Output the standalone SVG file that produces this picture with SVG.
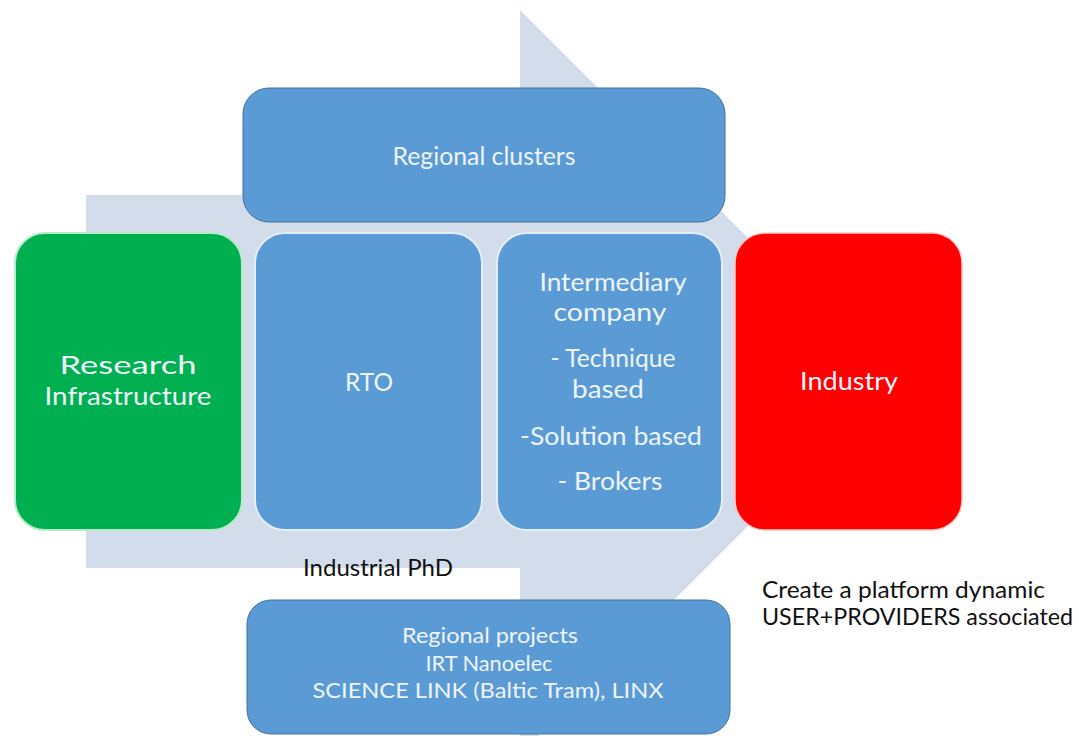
<svg xmlns="http://www.w3.org/2000/svg" width="1079" height="736" viewBox="0 0 1079 736">
<style>
text{font-family:Lato,"Open Sans","Liberation Sans",sans-serif;text-anchor:middle}
.in{fill:#EEF4FB;font-size:25px}
.out{fill:#111;font-size:23px}
.mid{fill:#5B9BD5;stroke:#E4EEF8;stroke-width:2}
.wide{fill:#5B9BD5;stroke:#41719C;stroke-width:1}
.low{font-size:22px}
</style>
<rect width="1079" height="736" fill="#fff"/>
<g id="arrow">
<path d="M86,195 L520,195 L520,10 L892,382 L520,754 L520,568 L86,568 Z" fill="#D2DCEB"/>
</g>
<g id="connectors"></g>
<g id="regional-clusters">
<rect class="wide" x="243" y="88" width="482" height="134" rx="26"/>
<text class="in" x="484" y="165" textLength="183" lengthAdjust="spacingAndGlyphs">Regional clusters</text>
</g>
<g id="research-infrastructure">
<rect x="15" y="233" width="227" height="297" rx="30" fill="#00B050" stroke="#B8EBC8" stroke-width="2"/>
<text class="in" fill="#E8F8EC" x="128" y="374" textLength="137" lengthAdjust="spacingAndGlyphs">Research</text>
<text class="in" x="128" y="405" textLength="167" lengthAdjust="spacingAndGlyphs">Infrastructure</text>
</g>
<g id="rto">
<rect class="mid" x="255" y="233" width="227" height="297" rx="30"/>
<text class="in" x="369" y="391" textLength="48" lengthAdjust="spacingAndGlyphs">RTO</text>
</g>
<g id="intermediary">
<rect class="mid" x="497" y="233" width="225" height="297" rx="30"/>
<text class="in" x="613" y="291" textLength="147" lengthAdjust="spacingAndGlyphs">Intermediary</text>
<text class="in" x="610" y="321" textLength="113" lengthAdjust="spacingAndGlyphs">company</text>
<text class="in" x="613" y="367" textLength="125" lengthAdjust="spacingAndGlyphs">- Technique</text>
<text class="in" x="608" y="398" textLength="72" lengthAdjust="spacingAndGlyphs">based</text>
<text class="in" x="611" y="445" textLength="182" lengthAdjust="spacingAndGlyphs">-Solution based</text>
<text class="in" x="610" y="490" textLength="105" lengthAdjust="spacingAndGlyphs">- Brokers</text>
</g>
<g id="industry">
<rect x="735" y="233" width="227" height="297" rx="30" fill="#FF0000" stroke="#FFC8C8" stroke-width="1.5"/>
<text class="in" fill="#FBE8E8" x="849" y="390" textLength="98" lengthAdjust="spacingAndGlyphs">Industry</text>
</g>
<g id="regional-projects">
<rect class="wide" x="247" y="600" width="483" height="134" rx="24"/>
<text class="in low" x="490" y="643" textLength="176" lengthAdjust="spacingAndGlyphs">Regional projects</text>
<text class="in low" x="489" y="671" textLength="127" lengthAdjust="spacingAndGlyphs">IRT Nanoelec</text>
<text class="in low" x="488" y="698" textLength="351" lengthAdjust="spacingAndGlyphs">SCIENCE LINK (Baltic Tram), LINX</text>
</g>
<g id="industrial-phd">
<text class="out" style="font-size:24px" x="378" y="576" textLength="150" lengthAdjust="spacingAndGlyphs">Industrial PhD</text>
</g>
<g id="note">
<text class="out" style="text-anchor:start" x="762" y="598" textLength="283" lengthAdjust="spacingAndGlyphs">Create a platform dynamic</text>
<text class="out" style="text-anchor:start" x="762" y="625" textLength="311" lengthAdjust="spacingAndGlyphs">USER+PROVIDERS associated</text>
</g>
</svg>
